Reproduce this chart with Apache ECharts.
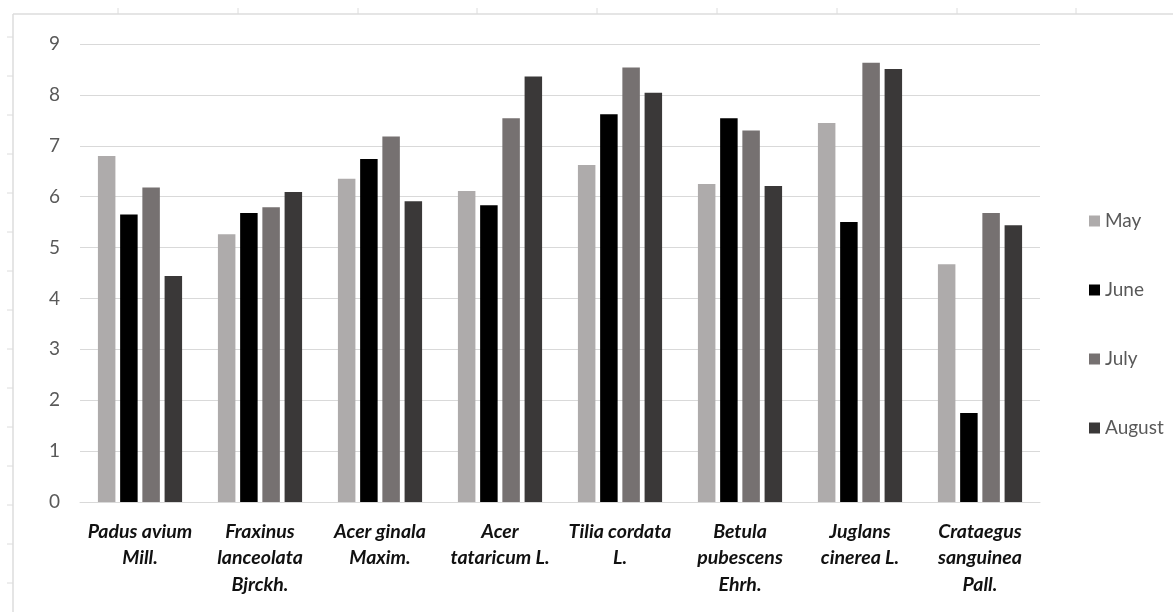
<!DOCTYPE html>
<html>
<head>
<meta charset="utf-8">
<script src="https://cdn.jsdelivr.net/npm/echarts@6/dist/echarts.min.js"></script>
<style>
  html, body { margin: 0; padding: 0; background: #fff; }
  #main { width: 1173px; height: 612px; }
</style>
</head>
<body>
<div id="main"></div>
<script>
// species on the x axis
var categories = [
    'Padus avium\nMill.',
    'Fraxinus\nlanceolata\nBjrckh.',
    'Acer ginala\nMaxim.',
    'Acer\ntataricum L.',
    'Tilia cordata\nL.',
    'Betula\npubescens\nEhrh.',
    'Juglans\ncinerea L.',
    'Crataegus\nsanguinea\nPall.'
];
var seriesNames = ['May', 'June', 'July', 'August'];

// values
var may    = [6.80, 5.26, 6.35, 6.11, 6.62, 6.25, 7.45, 4.67];
var june   = [5.65, 5.68, 6.74, 5.83, 7.62, 7.54, 5.50, 1.75];
var july   = [6.18, 5.79, 7.18, 7.54, 8.54, 7.30, 8.63, 5.68];
var august = [4.44, 6.09, 5.91, 8.36, 8.04, 6.21, 8.51, 5.44];

var colors = ['#aeabab', '#000000', '#767171', '#3a3838'];

var myChart = echarts.init(document.getElementById('main'));

// sheet frame (cell lines around the chart object)
function frameLines() {
    var els = [];
    var c = '#dcdcdc';
    els.push({ type: 'line', shape: { x1: 13, y1: 14, x2: 1173, y2: 14 }, style: { stroke: c, lineWidth: 1.5 } });
    els.push({ type: 'line', shape: { x1: 13, y1: 14, x2: 13, y2: 612 }, style: { stroke: c, lineWidth: 1.5 } });
    for (var x = 118; x < 1173; x += 119.8) {
        els.push({ type: 'line', shape: { x1: Math.round(x), y1: 8, x2: Math.round(x), y2: 14 }, style: { stroke: c, lineWidth: 1 } });
    }
    for (var y = 37; y < 612; y += 39) {
        els.push({ type: 'line', shape: { x1: 7, y1: Math.round(y), x2: 13, y2: Math.round(y) }, style: { stroke: c, lineWidth: 1 } });
    }
    return els;
}

var data = [may, june, july, august];
var series = [];
for (var i = 0; i < seriesNames.length; i++) {
    series.push({
        name: seriesNames[i],
        type: 'bar',
        data: data[i],
        barWidth: 17.5,
        barGap: '27%',
        itemStyle: { color: colors[i] },
        emphasis: { disabled: true }
    });
}

var option = {
    animation: false,
    color: colors,
    graphic: frameLines(),
    grid: {
        left: 80,
        right: 133,
        top: 44,
        bottom: 110,
        containLabel: false
    },
    legend: {
        orient: 'vertical',
        left: 1084,
        top: 206,
        itemWidth: 11,
        itemHeight: 11,
        itemGap: 49,
        icon: 'rect',
        data: seriesNames,
        textStyle: {
            fontFamily: 'Lato',
            fontSize: 19,
            lineHeight: 20,
            color: '#595959'
        }
    },
    xAxis: {
        type: 'category',
        data: categories,
        axisLine: { lineStyle: { color: '#d9d9d9', width: 1 } },
        axisTick: { show: false },
        axisLabel: {
            interval: 0,
            margin: 16,
            fontFamily: 'Lato',
            fontSize: 19.5,
            fontWeight: 'bold',
            fontStyle: 'italic',
            lineHeight: 26.5,
            color: '#111'
        }
    },
    yAxis: {
        type: 'value',
        min: 0,
        max: 9,
        interval: 1,
        axisLine: { show: false },
        axisTick: { show: false },
        splitLine: { lineStyle: { color: '#d9d9d9', width: 1 } },
        axisLabel: {
            margin: 20,
            fontFamily: 'Lato',
            fontSize: 19,
            color: '#595959'
        }
    },
    series: series
};

myChart.setOption(option);
</script>
</body>
</html>
